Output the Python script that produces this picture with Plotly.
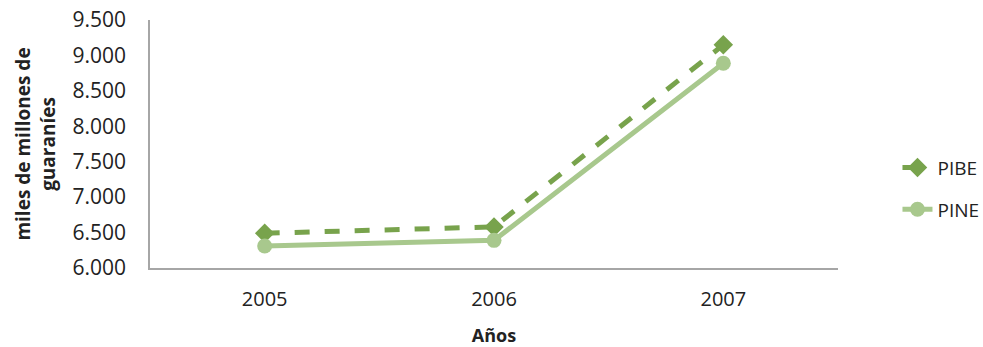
import plotly.graph_objects as go

years = ["2005", "2006", "2007"]
pibe = [6490, 6580, 9150]
pine = [6310, 6390, 8890]
y_ticks = [6000, 6500, 7000, 7500, 8000, 8500, 9000, 9500]

font_family = "Open Sans, Liberation Sans, sans-serif"

fig = go.Figure()
fig.add_trace(go.Scatter(
    x=years, y=pibe, name="PIBE", mode="lines+markers", legendgroup="a",
    line=dict(color="#78a34c", width=5, dash="dash"),
    marker=dict(symbol="diamond", size=15, color="#78a34c"),
))
fig.add_trace(go.Scatter(
    x=years, y=pine, name="PINE", mode="lines+markers", legendgroup="b",
    line=dict(color="#a8c88d", width=5),
    marker=dict(symbol="circle", size=15, color="#a8c88d"),
))

fig.update_layout(
    width=983, height=347,
    margin=dict(l=150, r=145, t=20, b=79),
    paper_bgcolor="white", plot_bgcolor="white",
    separators=",.",
    font=dict(family=font_family, color="#222222", size=18),
    showlegend=True,
    legend=dict(xref="container", x=0.913, xanchor="left", y=0.32, yanchor="middle",
                font=dict(size=19), itemwidth=30, tracegroupgap=14),
    xaxis=dict(
        type="category", range=[-0.5, 2.5], automargin=False,
        showline=True, linecolor="#a6a6a6", linewidth=1.5,
        showgrid=False, ticks="", tickfont=dict(size=20), ticklabelstandoff=12,
        title=dict(text="<b>Años</b>", font=dict(size=18), standoff=24),
    ),
    yaxis=dict(
        range=[6000, 9500], tickvals=y_ticks, tickformat=",d", automargin=False,
        showline=True, linecolor="#a6a6a6", linewidth=1.5,
        showgrid=False, ticks="", tickfont=dict(size=21), zeroline=False,
        ticklabelstandoff=18,
        title=dict(text="<b>miles de millones de<br>guaraníes</b>", font=dict(size=19), standoff=12),
    ),
)

fig.write_html("out.html")
